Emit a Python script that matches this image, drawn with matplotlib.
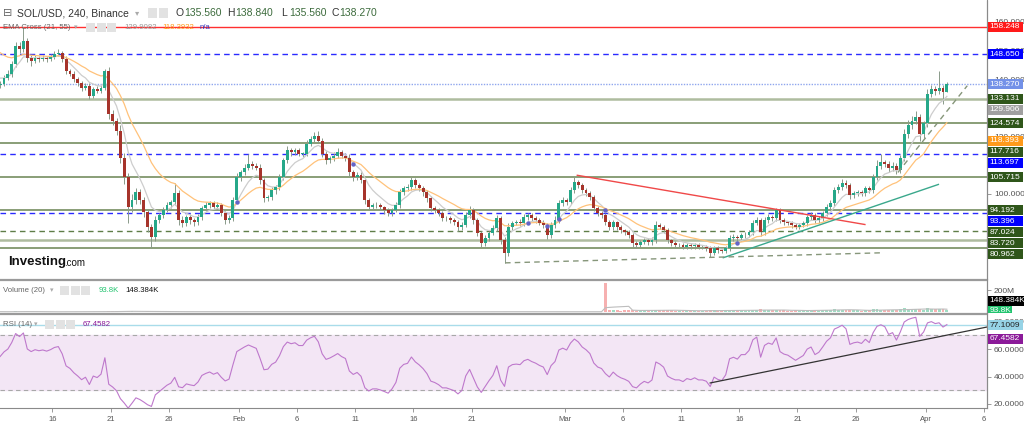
import numpy as np
import pandas as pd
import matplotlib
matplotlib.use("Agg")
import matplotlib.pyplot as plt
import matplotlib.dates as mdates
from matplotlib.patches import Rectangle
from matplotlib.lines import Line2D

plt.rcParams['font.family'] = ['Liberation Sans', 'DejaVu Sans']

# ---- data (8h candles) ----
start_time = '2022-01-11 12:00'
first_open = 137.8
closes = [
    138.4, 140.5, 141.9, 145.4, 151.6, 150.6, 153.4, 147.5, 146.4, 147.5, 147.1, 147.5, 147.1, 147.8, 148.8, 149.2, 147.1, 142.9, 141.9, 140.1,
    138.7, 137.0, 137.7, 134.2, 136.7, 136.0, 137.0, 142.9, 127.9, 125.5, 122.0, 112.6, 105.7, 95.2, 97.7, 100.4, 97.7, 93.5, 88.3, 84.8,
    90.7, 92.4, 94.2, 95.9, 97.0, 100.1, 90.7, 89.7, 91.7, 90.7, 90.0, 91.7, 94.9, 95.9, 96.6, 95.2, 95.9, 93.1, 90.7, 91.4,
    97.7, 105.7, 107.4, 109.1, 110.5, 109.8, 109.1, 104.6, 98.4, 98.7, 101.1, 102.2, 105.7, 111.6, 115.1, 114.4, 115.1, 114.0, 114.0, 117.5,
    119.2, 120.3, 118.5, 114.0, 111.6, 112.3, 113.3, 114.4, 113.3, 112.6, 107.4, 105.7, 106.4, 104.6, 97.7, 95.2, 95.9, 95.9, 95.2, 94.2,
    93.1, 94.2, 95.9, 100.4, 101.8, 102.2, 104.6, 102.9, 101.8, 100.4, 98.4, 94.9, 94.2, 93.1, 91.4, 91.4, 90.7, 90.0, 88.3, 89.0,
    92.4, 94.2, 90.7, 86.2, 82.7, 84.4, 86.2, 87.9, 91.4, 83.7, 79.2, 88.3, 89.7, 90.0, 89.7, 91.7, 92.4, 91.4, 90.7, 89.7,
    89.0, 85.5, 89.0, 90.7, 96.6, 97.7, 97.0, 101.1, 103.9, 102.9, 101.1, 100.1, 98.7, 94.9, 93.1, 92.4, 90.0, 88.3, 90.0, 88.3,
    87.2, 86.5, 85.5, 82.7, 82.0, 83.0, 83.7, 83.0, 83.7, 89.0, 88.3, 87.2, 83.7, 82.7, 82.0, 82.0, 81.3, 82.0, 81.6, 82.0,
    81.3, 81.3, 80.9, 79.2, 80.9, 80.2, 79.9, 80.9, 84.4, 84.8, 84.4, 85.5, 85.5, 86.5, 89.7, 90.7, 86.5, 90.7, 91.7, 91.4,
    94.2, 90.7, 90.0, 89.7, 89.0, 88.3, 89.0, 89.7, 91.7, 92.4, 90.7, 91.4, 93.1, 95.2, 96.6, 101.1, 102.2, 103.6, 102.9, 99.4,
    100.1, 100.4, 100.1, 101.8, 101.1, 105.7, 109.8, 110.9, 110.5, 108.8, 109.8, 108.1, 112.6, 120.9, 123.8, 125.5, 126.6, 120.9, 124.5, 134.9,
    136.7, 136.0, 137.0, 135.56, 138.27,
]
wick_up = [
    0.8, 1.0, 1.2, 0.9, 1.5, 1.3, 4.8, 1.1, 0.8, 0.9, 0.7, 1.0, 0.6, 0.9, 1.2, 1.4, 0.8, 1.0, 0.7, 0.9,
    0.8, 0.6, 1.1, 0.9, 0.7, 1.0, 0.8, 0.6, 1.5, 1.2, 1.0, 1.8, 1.5, 1.4, 2.0, 1.6, 1.2, 1.0, 0.9, 1.1,
    1.3, 0.9, 1.2, 1.0, 0.8, 3.5, 1.2, 1.5, 0.9, 1.1, 0.8, 1.0, 0.9, 1.2, 0.8, 0.7, 1.0, 0.9, 0.8, 1.0,
    1.2, 1.5, 1.0, 1.2, 3.5, 1.0, 0.8, 1.2, 1.0, 0.9, 1.1, 0.8, 1.2, 1.0, 1.4, 0.8, 1.0, 0.9, 0.7, 1.2,
    1.0, 1.2, 1.5, 0.9, 0.8, 1.0, 1.2, 1.4, 0.8, 0.9, 1.1, 0.7, 1.0, 1.3, 0.9, 0.8, 0.7, 1.0, 0.8, 0.6,
    0.7, 0.9, 1.0, 1.2, 0.8, 1.1, 1.3, 0.9, 0.7, 0.8, 1.0, 0.9, 0.8, 0.7, 0.9, 0.6, 0.8, 0.7, 0.9, 1.0,
    1.1, 1.4, 0.9, 0.8, 0.7, 1.0, 0.9, 1.1, 1.2, 0.8, 1.0, 1.4, 0.9, 0.8, 1.0, 1.2, 0.9, 0.8, 0.7, 0.9,
    1.0, 0.8, 1.2, 1.4, 1.0, 1.1, 0.9, 1.2, 1.8, 0.9, 0.8, 0.7, 0.9, 0.8, 0.7, 0.9, 0.8, 0.7, 0.9, 0.6,
    0.7, 0.6, 0.8, 0.7, 0.6, 0.8, 0.9, 0.7, 1.0, 1.3, 0.9, 0.8, 0.7, 0.6, 0.7, 0.6, 0.7, 0.8, 0.6, 0.7,
    0.6, 0.7, 0.6, 0.8, 0.9, 0.7, 0.6, 0.8, 1.0, 1.2, 0.8, 0.9, 1.0, 0.9, 1.1, 1.2, 0.9, 1.0, 1.1, 0.8,
    0.9, 0.8, 0.7, 0.6, 0.7, 0.8, 0.6, 0.7, 0.9, 1.0, 0.8, 0.7, 0.9, 1.0, 1.2, 1.1, 1.3, 1.4, 1.0, 0.8,
    0.7, 0.9, 0.8, 0.9, 0.8, 1.2, 1.8, 3.0, 1.0, 0.9, 1.1, 0.8, 1.0, 1.5, 1.8, 1.6, 2.4, 1.2, 1.0, 1.5,
    1.4, 1.0, 5.9, 0.8, 0.57,
]
wick_dn = [
    1.0, 0.8, 0.9, 1.1, 1.0, 1.4, 1.2, 1.5, 1.8, 0.9, 1.0, 0.8, 1.1, 0.7, 0.9, 0.8, 1.0, 1.2, 0.9, 1.0,
    1.1, 1.3, 0.8, 1.2, 0.9, 0.8, 1.0, 0.7, 1.9, 1.5, 1.6, 2.0, 2.2, 5.6, 1.5, 1.2, 1.4, 1.6, 1.8, 3.8,
    1.2, 1.0, 0.9, 0.8, 1.0, 0.9, 1.6, 1.5, 1.0, 1.2, 1.3, 0.9, 0.8, 1.0, 0.9, 1.1, 0.8, 1.0, 1.2, 0.9,
    0.8, 1.0, 1.2, 0.9, 1.0, 1.1, 0.9, 1.3, 1.5, 1.0, 0.9, 1.1, 0.8, 1.0, 0.9, 1.2, 0.8, 1.0, 1.1, 0.9,
    0.8, 1.0, 0.9, 1.2, 1.1, 1.0, 0.8, 0.9, 1.0, 1.1, 1.3, 1.2, 0.9, 1.0, 1.4, 1.1, 0.9, 0.8, 1.0, 1.2,
    1.1, 0.9, 0.8, 1.0, 0.9, 1.0, 0.8, 0.9, 1.0, 1.1, 1.2, 1.0, 0.9, 1.0, 0.8, 0.9, 1.0, 0.9, 1.2, 1.0,
    0.8, 0.9, 1.2, 1.0, 1.3, 0.9, 1.0, 0.8, 0.9, 1.2, 3.4, 1.0, 0.9, 0.8, 1.0, 0.9, 0.8, 1.0, 0.9, 0.8,
    1.0, 1.2, 0.9, 1.0, 0.8, 0.9, 1.0, 0.8, 0.9, 1.0, 0.8, 0.9, 1.0, 1.1, 0.9, 0.8, 1.0, 1.1, 0.9, 1.0,
    0.9, 1.0, 1.1, 1.2, 0.9, 0.8, 0.7, 0.9, 0.8, 0.9, 0.8, 0.9, 1.0, 0.9, 0.8, 0.7, 0.8, 0.7, 0.9, 0.8,
    0.7, 0.8, 0.9, 1.4, 0.8, 0.9, 0.8, 0.7, 0.8, 0.9, 1.0, 0.8, 0.9, 0.8, 0.9, 0.8, 1.2, 0.9, 0.8, 0.9,
    0.8, 1.0, 0.9, 0.8, 0.9, 0.8, 0.7, 0.8, 0.9, 0.8, 1.0, 0.9, 0.8, 0.9, 0.8, 0.9, 1.0, 0.9, 1.1, 1.2,
    0.9, 0.8, 0.9, 0.8, 1.0, 0.9, 1.0, 1.1, 1.2, 1.3, 1.0, 1.1, 1.0, 1.2, 1.3, 1.1, 1.2, 2.4, 1.3, 1.2,
    1.3, 1.5, 1.2, 4.3, 0.0,
]
volumes_m = [
    3.1, 2.4, 2.8, 4.2, 5.0, 3.3, 4.6, 3.8, 2.9, 2.2, 2.0, 1.8, 2.3, 1.9, 2.5, 2.1, 2.7, 3.9, 2.6, 2.4,
    2.2, 2.5, 1.9, 3.0, 2.4, 2.0, 2.3, 3.6, 6.2, 4.8, 5.5, 7.0, 6.6, 7.4, 5.1, 4.3, 3.9, 4.5, 5.2, 6.0,
    4.4, 3.5, 3.1, 2.8, 2.6, 3.7, 4.1, 3.3, 2.7, 2.5, 2.2, 2.4, 2.9, 2.6, 2.1, 2.3, 2.0, 2.5, 2.8, 2.4,
    3.8, 4.6, 3.2, 2.9, 3.4, 2.7, 2.5, 3.1, 3.6, 2.8, 2.6, 2.4, 3.0, 3.9, 3.4, 2.6, 2.3, 2.2, 2.4, 2.9,
    3.1, 2.8, 2.6, 3.3, 3.0, 2.4, 2.2, 2.3, 2.1, 2.5, 3.4, 3.1, 2.3, 2.6, 3.5, 3.2, 2.4, 2.1, 2.0, 2.2,
    2.3, 2.1, 2.4, 3.0, 2.7, 2.3, 2.6, 2.2, 2.0, 2.1, 2.4, 2.9, 2.5, 2.3, 2.2, 2.0, 1.9, 2.1, 2.4, 2.2,
    2.6, 2.4, 2.5, 2.9, 3.2, 2.6, 2.3, 2.2, 2.8, 3.3, 3.9, 3.1, 2.5, 2.2, 2.0, 2.3, 2.1, 1.9, 2.0, 2.2,
    2.3, 2.9, 2.6, 2.4, 3.2, 2.8, 2.3, 2.9, 3.1, 2.6, 2.4, 2.2, 2.3, 2.8, 2.5, 2.4,
    262.0,
    22, 18, 15, 12, 14, 19, 16, 13, 11, 14, 12, 17, 21, 16, 14, 18, 15, 12, 11, 13,
    12, 10, 11, 13, 12, 11, 16, 14, 12, 13, 11, 18, 15, 13, 14, 12, 16, 22, 19, 24,
    17, 15, 16, 21, 18, 14, 13, 12, 14, 13, 12, 15, 17, 14, 13, 16, 19, 21, 26, 22,
    20, 18, 17, 15, 14, 13, 15, 14, 24, 28, 21, 18, 16, 17, 15, 26, 34, 29, 25, 24,
    27, 22, 33, 28, 24, 31, 25, 15,
]
ema_seed = {'fast': 141.0, 'slow': 150.5}
rsi_seed = (1.2, 1.0)

# horizontal levels on the price panel
level_vals = [158.248, 148.650, 138.270, 133.131, 124.574, 117.716, 113.697,
              105.715, 94.192, 93.396, 87.024, 83.720, 80.962]
level_kind = ['red', 'blue', 'last', 'pale', 'green', 'green', 'blue',
              'green', 'green', 'blue', 'dash', 'pale', 'green']
ema_tags = [129.906, 118.393]
price_ticks = [100, 120, 140, 150, 160]

# drawn trendlines (date, price)
red_line = [('2022-03-02 02:00', 106.4), ('2022-03-26 19:00', 89.2)]
teal_line = [('2022-03-14 15:00', 77.6), ('2022-04-02 02:30', 103.2)]
support_line = [('2022-02-23 21:00', 75.8), ('2022-03-28 02:00', 79.3)]
rise_line = [('2022-03-29 15:00', 107.4), ('2022-04-04 14:00', 137.7)]
rsi_line = [('2022-03-13 12:00', 35.3), ('2022-04-06 07:00', 76.0)]

tick_dates = ['2022-01-16', '2022-01-21', '2022-01-26', '2022-02-01', '2022-02-06',
              '2022-02-11', '2022-02-16', '2022-02-21', '2022-03-01', '2022-03-06',
              '2022-03-11', '2022-03-16', '2022-03-21', '2022-03-26', '2022-04-01',
              '2022-04-06']
tick_labels = ['16', '21', '26', 'Feb', '6', '11', '16', '21', 'Mar', '6', '11',
               '16', '21', '26', 'Apr', '6']

# ---- figure ----
W, H = 1024, 433
fig = plt.figure(figsize=(W / 100, H / 100), dpi=100)
fig.patch.set_facecolor('white')


def px_box(x0, y0, x1, y1):
    return [x0 / W, 1 - y1 / H, (x1 - x0) / W, (y1 - y0) / H]


ax = fig.add_axes(px_box(0, 1, 987, 279))
axv = fig.add_axes(px_box(0, 281, 987, 313))
axr = fig.add_axes(px_box(0, 315, 987, 408))

dates = pd.date_range(start_time, periods=len(closes), freq='8h')
x = mdates.date2num(dates)
c = np.array(closes)
o = np.r_[first_open, c[:-1]]
hi = np.maximum(o, c) + np.array(wick_up)
lo = np.minimum(o, c) - np.array(wick_dn)
up = c >= o

x0 = mdates.date2num(pd.Timestamp('2022-01-16'))
xlim = (x0 - 4.51, x0 + 80.28)
for a in (ax, axv, axr):
    a.set_xlim(*xlim)
    a.set_facecolor('white')
    for s in ('top', 'left', 'bottom'):
        a.spines[s].set_visible(False)
    a.spines['right'].set_color('#8a8a8a')
    a.yaxis.tick_right()
    a.tick_params(axis='y', length=3, width=0.6, color='#8a8a8a', labelsize=6,
                  labelcolor='#555555', pad=2)
    a.tick_params(axis='x', bottom=False, labelbottom=False)

# ---- price panel ----
ax.set_ylim(70.16, 167.30)
ax.set_yticks(price_ticks)
ax.set_yticklabels([f'{v:.3f}' for v in price_ticks])

line_style = {
    'red': dict(color='#ff3030', ls='-', lw=1.0),
    'blue': dict(color='#2a2aff', ls=(0, (4, 3)), lw=1.0),
    'last': dict(color='#8fa6ee', ls=(0, (1, 1)), lw=1.0),
    'pale': dict(color='#aebc9f', ls='-', lw=1.8),
    'green': dict(color='#6a8452', ls='-', lw=1.1),
    'dash': dict(color='#5f7d48', ls=(0, (4, 3)), lw=1.0),
}
tag_bg = {'red': '#ff1a1a', 'blue': '#0000ff', 'last': '#7391e8', 'pale': '#2f561a',
          'green': '#2f561a', 'dash': '#2f561a'}
for v, k in zip(level_vals, level_kind):
    ax.axhline(v, zorder=1, **line_style[k])

body_w = 0.25
col_up, col_dn = '#26a889', '#a6342b'
ax.vlines(x, lo, hi, color='#8a9a8a', lw=0.7, zorder=2)
body_h = np.maximum(np.abs(c - o), 0.2)
ax.bar(x, body_h, bottom=np.minimum(o, c), width=body_w,
       color=np.where(up, col_up, col_dn), linewidth=0, zorder=3)


def ema(vals, span, seed):
    a = 2 / (span + 1)
    e = seed
    out = []
    for v in vals:
        e = e + a * (v - e)
        out.append(e)
    return np.array(out)


ema_fast = ema(c, 7, ema_seed['fast'])      # EMA 21 on 4h
ema_slow = ema(c, 18.33, ema_seed['slow'])  # EMA 55 on 4h
ax.plot(x, ema_fast, color='#cdcdcd', lw=0.9, zorder=2)
ax.plot(x, ema_slow, color='#ffc27a', lw=0.9, zorder=2)
cross = np.where(np.diff(np.sign(ema_fast - ema_slow)) != 0)[0] + 1
ax.plot(x[cross], ema_fast[cross], 'o', color='#6464c8', ms=2.2, zorder=4)


def seg(a, pts, **kw):
    xs = [mdates.date2num(pd.Timestamp(p[0])) for p in pts]
    a.plot(xs, [p[1] for p in pts], **kw)


seg(ax, red_line, color='#f04848', lw=1.0, zorder=4)
seg(ax, teal_line, color='#3aa88c', lw=1.0, zorder=4)
seg(ax, support_line, color='#86967a', lw=1.0, ls=(0, (4, 3)), zorder=4)
seg(ax, rise_line, color='#86967a', lw=1.0, ls=(0, (4, 3)), zorder=4)

fig.text(8 / W, 1 - 262 / H, 'Investing', fontsize=9.5, weight='bold', color='#111111', va='center')
fig.text(64 / W, 1 - 263.5 / H, '.com', fontsize=7, color='#111111', va='center')

# ---- volume panel ----
axv.set_ylim(-9, 282)
axv.set_yticks([200])
axv.set_yticklabels(['200M'])
vcol = np.where(up, '#9fdcc3', '#f6b0b0')
axv.bar(x, volumes_m, width=body_w, color=vcol, linewidth=0)
axv.plot(x, pd.Series(volumes_m).rolling(7, min_periods=1).mean(), color='#bdbdbd', lw=0.8)

# ---- RSI panel ----
axr.set_ylim(17.09, 84.73)
axr.set_yticks([20, 40, 60, 80])
axr.set_yticklabels(['20.0000', '40.0000', '60.0000', '80.0000'])
n_rsi = 14
d = np.diff(c)
ag, al = rsi_seed
rsi = []
for dv in np.r_[0, d]:
    ag = (ag * (n_rsi - 1) + max(dv, 0)) / n_rsi
    al = (al * (n_rsi - 1) + max(-dv, 0)) / n_rsi
    rsi.append(100 - 100 / (1 + ag / al))
axr.axhspan(30, 70, color='#f3e6f5', zorder=0)
axr.axhline(70, color='#a8a8a8', lw=0.8, ls=(0, (4, 3)))
axr.axhline(30, color='#a8a8a8', lw=0.8, ls=(0, (4, 3)))
axr.axhline(77.1009, color='#a9dcea', lw=1.0)
axr.plot(x, rsi, color='#be78cc', lw=0.8)
seg(axr, rsi_line, color='#333333', lw=0.9)

axr.spines['bottom'].set_visible(True)
axr.spines['bottom'].set_color('#8a8a8a')
axr.set_xticks([mdates.date2num(pd.Timestamp(t)) for t in tick_dates])
axr.set_xticklabels(tick_labels)
axr.tick_params(axis='x', bottom=True, labelbottom=True, length=3, width=0.6,
                color='#8a8a8a', labelsize=5.5, labelcolor='#555555', pad=3)

# ---- panel separators ----
for yy in (280, 314):
    fig.add_artist(Line2D([0, 987 / W], [1 - yy / H] * 2, color='#9a9a9a', lw=1.6))
fig.add_artist(Line2D([987 / W] * 2, [1 - 408 / H, 1], color='#8a8a8a', lw=0.8))


# ---- right side value tags ----
def tag(ypx, s, bg, fg='white', clip=None, w=35):
    r = Rectangle((988 / W, 1 - (ypx + 5) / H), w / W, 10 / H, transform=fig.transFigure,
                  facecolor=bg, edgecolor='none', zorder=5)
    t = fig.text(989.5 / W, 1 - ypx / H, s, color=fg, fontsize=6, va='center', ha='left', zorder=6)
    fig.add_artist(r)
    if clip is not None:
        r.set_clip_path(clip)
        t.set_clip_path(clip)


def y_px(a, v):
    return H - a.transData.transform((x0, v))[1]


tags = [(v, tag_bg[k]) for v, k in zip(level_vals, level_kind)]
tags += [(ema_tags[0], '#a0a0a0'), (ema_tags[1], '#ff9a1a')]
tags.sort(key=lambda t: -t[0])
prev = -1e9
for v, bg in tags:
    yp = max(y_px(ax, v), prev + 11)
    tag(yp, f'{v:.3f}', bg)
    prev = yp

vclip = Rectangle((987 / W, 1 - 313 / H), 37 / W, 32 / H, transform=fig.transFigure)
tag(301, '148.384K', '#000000', w=36)
tag(310.5, '93.8K', '#22c46f', clip=vclip, w=24)
tag(y_px(axr, 77.1009), '77.1009', '#96d3e6', fg='#222222')
tag(y_px(axr, 67.4582), '67.4582', '#8b1a99')


# ---- header texts ----
def ftxt(xp, yp, s, **kw):
    kw.setdefault('va', 'center')
    return fig.text(xp / W, 1 - yp / H, s, **kw)


def icons(xp, yp, n):
    for i in range(n):
        fig.add_artist(Rectangle(((xp + i * 10.5) / W, 1 - (yp + 4.5) / H), 9 / W, 9 / H,
                                 transform=fig.transFigure, facecolor='#e2e2e2', edgecolor='none'))


ftxt(3, 13, '⊟', fontsize=8, color='#666666', family=['DejaVu Sans'])
ftxt(17, 13, 'SOL/USD, 240, Binance', fontsize=7.5, color='#333333')
ftxt(135, 13, '▾', fontsize=6, color='#aaaaaa', family=['DejaVu Sans'])
icons(148, 13, 2)
for xp, lab, val in [(176, 'O', '135.560'), (227, 'H', '138.840'),
                     (281, 'L', '135.560'), (331, 'C', '138.270')]:
    ftxt(xp, 13, lab, fontsize=7.5, color='#333333')
    ftxt(xp + 8.5, 13, val, fontsize=7.5, color='#3c6b3c')

ftxt(3, 27.5, 'EMA Cross (21, 55)', fontsize=5.6, color='#666666')
ftxt(74, 27.5, '▾', fontsize=5, color='#aaaaaa', family=['DejaVu Sans'])
icons(86, 27.5, 3)
ftxt(124, 27.5, '129.9082', fontsize=5.6, color='#999999')
ftxt(162, 27.5, '118.3932', fontsize=5.6, color='#ff9a1a')
ftxt(200, 27.5, 'n/a', fontsize=5.6, color='#3333bb')

ftxt(3, 290, 'Volume (20)', fontsize=5.6, color='#666666')
ftxt(50, 290, '▾', fontsize=5, color='#aaaaaa', family=['DejaVu Sans'])
icons(60, 290, 3)
ftxt(99, 290, '93.8K', fontsize=5.6, color='#22c46f')
ftxt(125, 290, '148.384K', fontsize=5.6, color='#111111')

ftxt(3, 324, 'RSI (14)', fontsize=5.6, color='#666666')
ftxt(34, 324, '▾', fontsize=5, color='#aaaaaa', family=['DejaVu Sans'])
icons(45, 324, 3)
ftxt(83, 324, '67.4582', fontsize=5.6, color='#8b1a99')

fig.savefig('out.png', dpi=100)
